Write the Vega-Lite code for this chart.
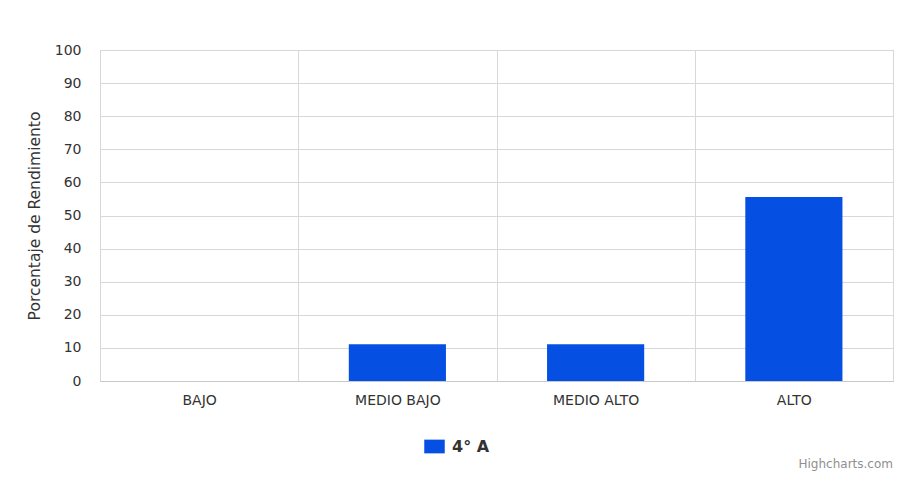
{
  "$schema": "https://vega.github.io/schema/vega-lite/v6.json",
  "autosize": {"type": "none"},
  "padding": {"left": 100, "top": 50, "right": 8, "bottom": 96},
  "width": 793,
  "height": 331,
  "background": "#ffffff",
  "title": {
    "text": "Highcharts.com",
    "orient": "bottom",
    "anchor": "end",
    "offset": 4,
    "fontSize": 12,
    "fontWeight": "normal",
    "color": "#909090",
    "font": "DejaVu Sans"
  },
  "data": {
    "values": [
      {"nivel": "BAJO", "porcentaje": 0, "serie": "4° A"},
      {"nivel": "MEDIO BAJO", "porcentaje": 11.11, "serie": "4° A"},
      {"nivel": "MEDIO ALTO", "porcentaje": 11.11, "serie": "4° A"},
      {"nivel": "ALTO", "porcentaje": 55.56, "serie": "4° A"}
    ]
  },
  "mark": {"type": "bar", "width": {"band": 0.49}},
  "encoding": {
    "x": {
      "field": "nivel",
      "type": "nominal",
      "sort": ["BAJO", "MEDIO BAJO", "MEDIO ALTO", "ALTO"],
      "scale": {"paddingInner": 0, "paddingOuter": 0},
      "axis": {
        "title": null,
        "labelAngle": 0,
        "grid": true,
        "tickBand": "extent",
        "gridColor": "#d8d8d8",
        "ticks": false,
        "domain": true,
        "domainColor": "#c8c8c8",
        "labelPadding": 12,
        "labelFont": "DejaVu Sans",
        "labelFontSize": 14,
        "labelColor": "#333333"
      }
    },
    "y": {
      "field": "porcentaje",
      "type": "quantitative",
      "scale": {"domain": [0, 100], "nice": false},
      "axis": {
        "title": "Porcentaje de Rendimiento",
        "values": [0, 10, 20, 30, 40, 50, 60, 70, 80, 90, 100],
        "grid": true,
        "gridColor": "#d8d8d8",
        "ticks": false,
        "domain": false,
        "labelPadding": 19,
        "labelFont": "DejaVu Sans",
        "labelFontSize": 14,
        "labelColor": "#333333",
        "titleFont": "DejaVu Sans",
        "titleFontSize": 15.5,
        "titleFontWeight": "normal",
        "titleColor": "#333333",
        "titlePadding": 12
      }
    },
    "color": {
      "field": "serie",
      "type": "nominal",
      "scale": {"range": ["#054fe3"]},
      "legend": {
        "title": null,
        "orient": "none",
        "legendX": 324,
        "legendY": 386,
        "symbolType": "M-1,-0.67H1V0.67H-1Z",
        "symbolSize": 420,
        "symbolStrokeWidth": 0,
        "labelFont": "DejaVu Sans",
        "labelFontSize": 16,
        "labelFontWeight": "bold",
        "labelColor": "#333333",
        "labelOffset": 7
      }
    }
  },
  "config": {
    "view": {"stroke": "#c8c8c8", "strokeWidth": 1}
  }
}
